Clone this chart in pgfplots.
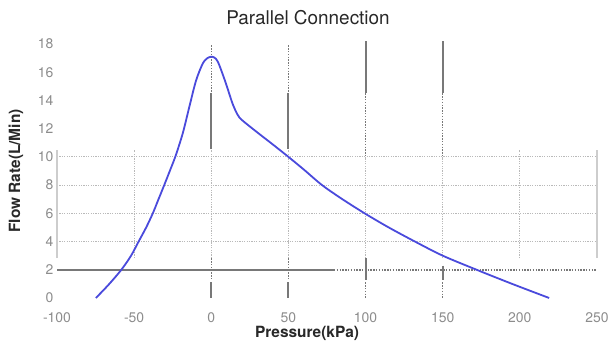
\documentclass[border=0pt]{standalone}
\usepackage{pgfplots}
\pgfplotsset{compat=1.18}
\usepackage{fontspec}
\setmainfont{TeX Gyre Heros}
\definecolor{curve}{RGB}{74,74,220}
\definecolor{tickgray}{RGB}{140,140,140}
\definecolor{darkgrid}{RGB}{120,120,120}
\definecolor{lightgrid}{RGB}{185,185,185}
\definecolor{sidegrid}{RGB}{205,205,205}
\definecolor{labeltext}{RGB}{40,40,40}
\tikzset{
  lgrid/.style={lightgrid, line width=1bp, dash pattern=on 1.2bp off 1.2bp},
  dgrid/.style={darkgrid, line width=1.5bp, dash pattern=on 1.4bp off 1.4bp},
  dsolid/.style={darkgrid, line width=2bp},
}
\begin{document}
\begin{tikzpicture}
\path[use as bounding box] (0,0) rectangle (610bp,344bp);
\begin{axis}[
  at={(57bp,46bp)}, anchor=south west,
  scale only axis, width=540bp, height=254bp,
  xmin=-100, xmax=250, ymin=0, ymax=18,
  axis line style={draw=none},
  major tick length=0pt,
  clip=false,
  xtick={-100,-50,...,250},
  ytick={0,2,...,18},
  tick label style={font=\fontsize{14}{14}\selectfont, text=tickgray},
  /pgf/number format/assume math mode=true,
  xticklabel style={yshift=-11bp},
]
% light grid block
\draw[lgrid] (-100,10) -- (250,10);
\draw[lgrid] (-100,8) -- (250,8);
\draw[lgrid] (-100,6) -- (250,6);
\draw[lgrid] (-100,4) -- (250,4);
\draw[sidegrid, line width=2bp] (-100,2.83) -- (-100,10.5);
\draw[sidegrid, line width=2bp] (250,2.83) -- (250,10.5);
\draw[lgrid] (-50,2.83) -- (-50,10.5);
\draw[lgrid] (0,2.83) -- (0,10.5);
\draw[lgrid] (50,2.83) -- (50,10.5);
\draw[lgrid] (100,2.83) -- (100,10);
\draw[lgrid] (150,2.83) -- (150,10);
\draw[lgrid] (200,2.83) -- (200,10.5);
% dark upper segments
\draw[dgrid] (0,17.9) -- (0,14.5);
\draw[dsolid] (0,14.5) -- (0,10.55);
\draw[dgrid] (50,17.9) -- (50,14.5);
\draw[dsolid] (50,14.5) -- (50,10.55);
\draw[dsolid] (100,18.2) -- (100,14.5);
\draw[dgrid] (100,14.5) -- (100,10.05);
\draw[dsolid] (150,18.2) -- (150,14.5);
\draw[dgrid] (150,14.5) -- (150,10.05);
% dark lower segments
\draw[dsolid] (-100,2) -- (79.5,2);
\draw[dgrid] (79.5,2) -- (250,2);
\draw[dgrid] (0,2.8) -- (0,1.25);
\draw[dsolid] (0,1.1) -- (0,0);
\draw[dgrid] (50,2.8) -- (50,1.25);
\draw[dsolid] (50,1.1) -- (50,0);
\draw[dsolid] (100,2.8) -- (100,1.25);
\draw[dgrid] (100,1.1) -- (100,0);
\draw[dsolid] (150,2.3) -- (150,1.25);
\draw[dgrid] (150,1.1) -- (150,0);
% flow curve
\addplot[curve, line width=1.8bp, smooth, tension=0.5] coordinates {
  (-74.8,0) (-66.5,0.95) (-58.3,2.0) (-52,3.0) (-47.1,4.0)
  (-42.2,5.0) (-37.9,6.0) (-34.2,7.0) (-30.5,8.0) (-26.9,9.0)
  (-23.2,10.05) (-18.5,11.67) (-14.2,13.56) (-9.9,15.4) (-5.6,16.6)
  (-2.5,17.0) (0.5,17.1) (3,16.95) (5.2,16.5) (9.5,15.2)
  (13.7,13.8) (17,13.0) (20,12.6) (30,11.72) (40,10.87)
  (50,10.0) (60,9.1) (71.8,8.0) (85,7.0) (99.4,6.0)
  (115,5.0) (132,4.0) (150,3.0) (172,2.0) (195,1.0) (219,0)
};
\end{axis}
\node[text=labeltext, font=\fontsize{19}{19}\selectfont] at (308bp,326bp) {Parallel Connection};
\node[text=labeltext, font=\fontsize{15.5}{15.5}\selectfont\bfseries] at (307bp,11bp) {Pressure(kPa)};
\node[text=labeltext, font=\fontsize{15.5}{15.5}\selectfont\bfseries, rotate=90] at (16bp,173bp) {Flow Rate(L/Min)};
\end{tikzpicture}
\end{document}
